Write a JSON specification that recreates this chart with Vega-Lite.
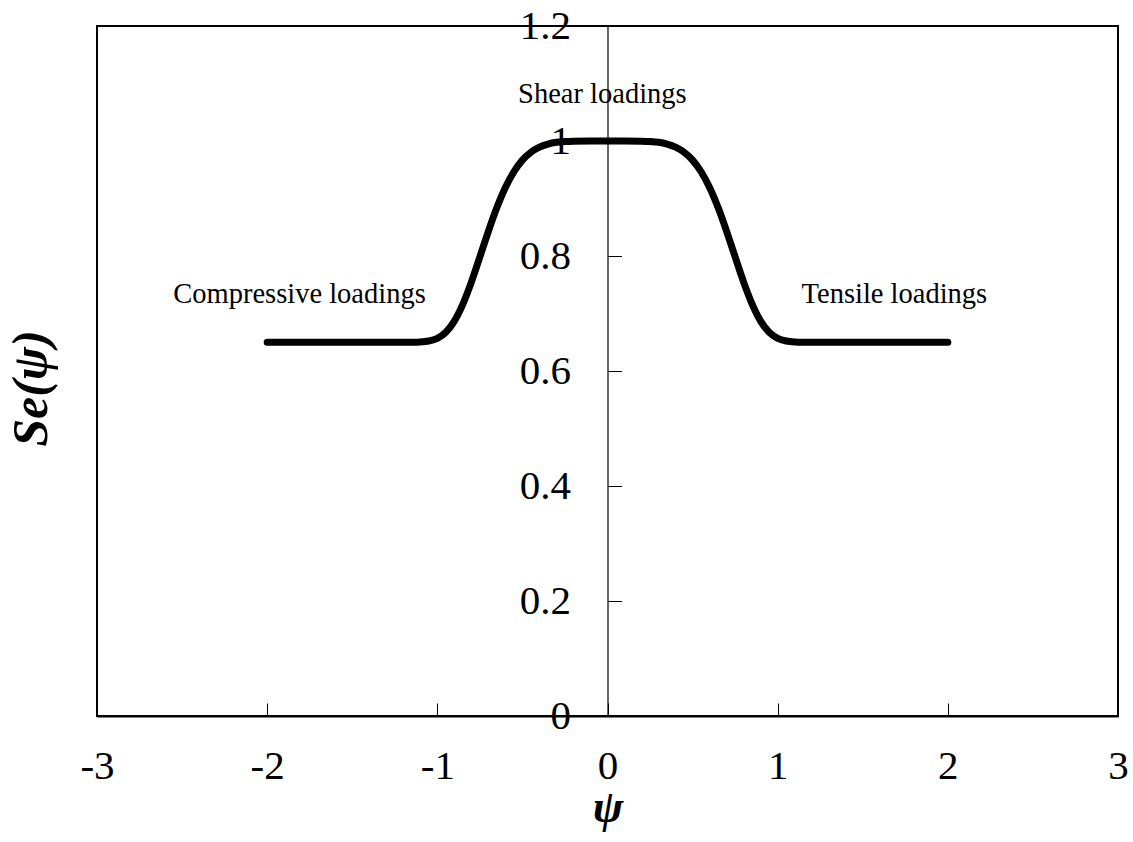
{
  "$schema": "https://vega.github.io/schema/vega-lite/v6.json",
  "width": 1021,
  "height": 690,
  "autosize": {"type": "none"},
  "padding": {"left": 97, "top": 26, "right": 15, "bottom": 126},
  "background": "white",
  "config": {
    "view": {"stroke": "black", "strokeWidth": 2},
    "axis": {"grid": false, "labelFont": "Liberation Serif", "labelColor": "black", "titleColor": "black", "domainColor": "black", "tickColor": "black"}
  },
  "datasets": {
    "curve": [
      {"psi": -2.0, "se": 0.65}, {"psi": -1.5, "se": 0.65}, {"psi": -1.2, "se": 0.65},
      {"psi": -1.15, "se": 0.6501}, {"psi": -1.1, "se": 0.6505}, {"psi": -1.05, "se": 0.6521},
      {"psi": -1.0, "se": 0.6568}, {"psi": -0.95, "se": 0.6674}, {"psi": -0.9, "se": 0.6867},
      {"psi": -0.85, "se": 0.7162}, {"psi": -0.8, "se": 0.7546}, {"psi": -0.75, "se": 0.7984},
      {"psi": -0.7, "se": 0.843}, {"psi": -0.65, "se": 0.8842}, {"psi": -0.6, "se": 0.9191},
      {"psi": -0.55, "se": 0.9465}, {"psi": -0.5, "se": 0.9667}, {"psi": -0.45, "se": 0.9805},
      {"psi": -0.4, "se": 0.9894}, {"psi": -0.35, "se": 0.9947}, {"psi": -0.3, "se": 0.9977},
      {"psi": -0.25, "se": 0.9991}, {"psi": -0.2, "se": 0.9997}, {"psi": -0.1, "se": 1.0},
      {"psi": 0.0, "se": 1.0},
      {"psi": 0.1, "se": 1.0}, {"psi": 0.2, "se": 0.9997}, {"psi": 0.25, "se": 0.9991},
      {"psi": 0.3, "se": 0.9977}, {"psi": 0.35, "se": 0.9947}, {"psi": 0.4, "se": 0.9894},
      {"psi": 0.45, "se": 0.9805}, {"psi": 0.5, "se": 0.9667}, {"psi": 0.55, "se": 0.9465},
      {"psi": 0.6, "se": 0.9191}, {"psi": 0.65, "se": 0.8842}, {"psi": 0.7, "se": 0.843},
      {"psi": 0.75, "se": 0.7984}, {"psi": 0.8, "se": 0.7546}, {"psi": 0.85, "se": 0.7162},
      {"psi": 0.9, "se": 0.6867}, {"psi": 0.95, "se": 0.6674}, {"psi": 1.0, "se": 0.6568},
      {"psi": 1.05, "se": 0.6521}, {"psi": 1.1, "se": 0.6505}, {"psi": 1.15, "se": 0.6501},
      {"psi": 1.2, "se": 0.65}, {"psi": 1.5, "se": 0.65}, {"psi": 2.0, "se": 0.65}
    ],
    "notes": [
      {"psi": -0.03, "se": 1.066, "label": "Shear loadings"},
      {"psi": -1.81, "se": 0.718, "label": "Compressive loadings"},
      {"psi": 1.686, "se": 0.718, "label": "Tensile loadings"}
    ]
  },
  "layer": [
    {
      "data": {"name": "curve"},
      "mark": {"type": "line", "color": "black", "strokeWidth": 7, "strokeCap": "round", "strokeJoin": "round", "interpolate": "monotone", "clip": false},
      "encoding": {
        "x": {
          "field": "psi", "type": "quantitative",
          "scale": {"domain": [-3, 3], "nice": false, "zero": false},
          "axis": {
            "values": [-3, -2, -1, 0, 1, 2, 3],
            "labelExpr": "'' + datum.value",
            "labelFontSize": 41,
            "labelPadding": 43,
            "tickSize": -13,
            "tickWidth": 1,
            "domainWidth": 2,
            "labelFlush": false,
            "labelOverlap": false,
            "title": "ψ",
            "titleFont": "Liberation Serif",
            "titleFontSize": 46,
            "titleFontStyle": "italic",
            "titleFontWeight": "bold",
            "titleBaseline": "middle",
            "titleAlign": "center",
            "titleY": 91
          }
        },
        "y": {
          "field": "se", "type": "quantitative",
          "scale": {"domain": [0, 1.2], "nice": false, "zero": true},
          "axis": {
            "values": [0, 0.2, 0.4, 0.6, 0.8, 1, 1.2],
            "labelExpr": "datum.value == 0 ? '0' : datum.value == 1 ? '1' : format(datum.value, '.1f')",
            "offset": -510.5,
            "labelFontSize": 41,
            "tickSize": -14,
            "labelPadding": 51,
            "tickWidth": 1,
            "domainWidth": 1.2,
            "labelFlush": false,
            "labelOverlap": false,
            "title": "Se(ψ)",
            "titleFont": "Liberation Serif",
            "titleFontSize": 50,
            "titleFontStyle": "italic",
            "titleFontWeight": "bold",
            "titleAngle": -90,
            "titleAlign": "center",
            "titleBaseline": "middle",
            "titleX": -576,
            "titleY": 362
          }
        }
      }
    },
    {
      "data": {"name": "notes"},
      "mark": {"type": "text", "font": "Liberation Serif", "fontSize": 28.5, "color": "black", "align": "center", "baseline": "alphabetic"},
      "encoding": {
        "x": {"field": "psi", "type": "quantitative"},
        "y": {"field": "se", "type": "quantitative"},
        "text": {"field": "label"}
      }
    }
  ]
}
